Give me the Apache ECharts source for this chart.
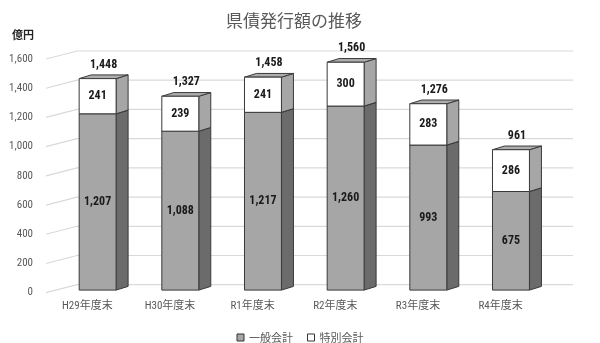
<!DOCTYPE html>
<html><head><meta charset="utf-8">
<script src="https://cdn.jsdelivr.net/npm/echarts@6/dist/echarts.min.js"></script>
<style>html,body{margin:0;padding:0;background:#fff}#c{width:600px;height:343px}</style>
</head><body><div id="c"></div>
<script>
const categories = ['H29年度末','H30年度末','R1年度末','R2年度末','R3年度末','R4年度末'];
const general = [1207,1088,1217,1260,993,675];
const special = [241,239,241,300,283,286];
const totals = [1448,1327,1458,1560,1276,961];
const yTicks = [0,200,400,600,800,1000,1200,1400,1600];
const seriesNames = ['一般会計','特別会計'];

const NARROW = '"Roboto Condensed","Noto Sans CJK JP",sans-serif';
const CJK = '"Noto Sans CJK JP",sans-serif';
const WALL = {x: 31, y: -8};
const BAR_OFF = {x: 10.3, y: -2.6};
const BAR_D = {x: 12, y: -3.7};
const BAR_W = 0.447;
const fmt = v => v.toLocaleString('en-US');

function box(api, i, v0, v1, c) {
  const p0 = api.coord([i, v0]), p1 = api.coord([i, v1]);
  const w = api.size([1, 0])[0] * BAR_W;
  const xl = p0[0] - w / 2 + BAR_OFF.x, xr = xl + w;
  const yb = p0[1] + BAR_OFF.y, yt = p1[1] + BAR_OFF.y;
  const st = f => ({fill: f, stroke: '#3a3a3a', lineWidth: 1, lineJoin: 'round'});
  return {
    xl, xr, yb, yt, w,
    els: [
      {type: 'polygon', shape: {points: [[xr, yb], [xr + BAR_D.x, yb + BAR_D.y], [xr + BAR_D.x, yt + BAR_D.y], [xr, yt]]}, style: st(c.side)},
      {type: 'polygon', shape: {points: [[xl, yt], [xr, yt], [xr + BAR_D.x, yt + BAR_D.y], [xl + BAR_D.x, yt + BAR_D.y]]}, style: st(c.top)},
      {type: 'rect', shape: {x: xl, y: yt, width: w, height: yb - yt}, style: st(c.front)}
    ]
  };
}
function label(text, x, y) {
  return {type: 'text', style: {text, x, y, align: 'center', verticalAlign: 'middle',
    font: 'bold 12px ' + NARROW, fill: '#1a1a1a'}};
}

const chart = echarts.init(document.getElementById('c'));
chart.setOption({
  animation: false,
  backgroundColor: '#fff',
  title: [
    {text: '県債発行額の推移', left: 226, top: 12, padding: 0,
     textStyle: {fontSize: 17, fontWeight: 'normal', color: '#595959', fontFamily: CJK}},
    {text: '億円', left: 12, top: 29, padding: 0,
     textStyle: {fontSize: 11, fontWeight: 'bold', color: '#222', fontFamily: CJK}}
  ],
  legend: {
    data: [
      {name: seriesNames[0], icon: 'rect', itemStyle: {color: '#A6A6A6', borderColor: '#333', borderWidth: 1}},
      {name: seriesNames[1], icon: 'rect', itemStyle: {color: '#FFFFFF', borderColor: '#333', borderWidth: 1}}
    ],
    left: 'center', top: 327, itemWidth: 7, itemHeight: 7, itemGap: 14,
    textStyle: {fontSize: 11, color: '#595959', fontFamily: CJK}
  },
  grid: {left: 46, right: 58, top: 59, bottom: 50.3},
  xAxis: {
    type: 'category', data: categories,
    axisLine: {show: false}, axisTick: {show: false},
    axisLabel: {color: '#595959', fontSize: 11, margin: 8, fontFamily: NARROW}
  },
  yAxis: {
    type: 'value', min: 0, max: 1600, interval: 200,
    axisLine: {show: false}, axisTick: {show: false}, splitLine: {show: false},
    axisLabel: {color: '#595959', fontSize: 11, margin: 13, fontFamily: NARROW, formatter: v => fmt(v)}
  },
  series: [
    {
      type: 'custom', silent: true, z: 1,
      data: yTicks.map(v => [0, v]), encode: {x: 0, y: 1},
      renderItem: (params, api) => {
        const v = api.value(1);
        const y = api.coord([0, v])[1];
        const l = params.coordSys.x, r = l + params.coordSys.width;
        return {type: 'polyline', shape: {points: [[l, y], [l + WALL.x, y + WALL.y], [r + WALL.x, y + WALL.y]]},
          style: {stroke: '#D9D9D9', lineWidth: 1.2, fill: null}};
      }
    },
    {
      name: seriesNames[0], type: 'custom', z: 2,
      itemStyle: {color: '#A6A6A6'},
      data: general.map((v, i) => [i, v]), encode: {x: 0, y: 1},
      renderItem: (params, api) => {
        const i = api.value(0), v = api.value(1);
        const b = box(api, i, 0, v, {front: '#A6A6A6', side: '#6B6B6B', top: '#8C8C8C'});
        return {type: 'group', children: b.els.concat([label(fmt(v), b.xl + b.w / 2, (b.yb + b.yt) / 2)])};
      }
    },
    {
      name: seriesNames[1], type: 'custom', z: 3,
      itemStyle: {color: '#FFFFFF'},
      data: special.map((v, i) => [i, v, general[i], totals[i]]), encode: {x: 0, y: 1},
      renderItem: (params, api) => {
        const i = api.value(0), v = api.value(1), g = api.value(2), t = api.value(3);
        const b = box(api, i, g, g + v, {front: '#FFFFFF', side: '#A6A6A6', top: '#ADADAD'});
        return {type: 'group', children: b.els.concat([
          label(fmt(v), b.xl + b.w / 2, (b.yb + b.yt) / 2),
          label(fmt(t), b.xl + (b.w + BAR_D.x) / 2, b.yt - 14)
        ])};
      }
    }
  ]
});
</script></body></html>
